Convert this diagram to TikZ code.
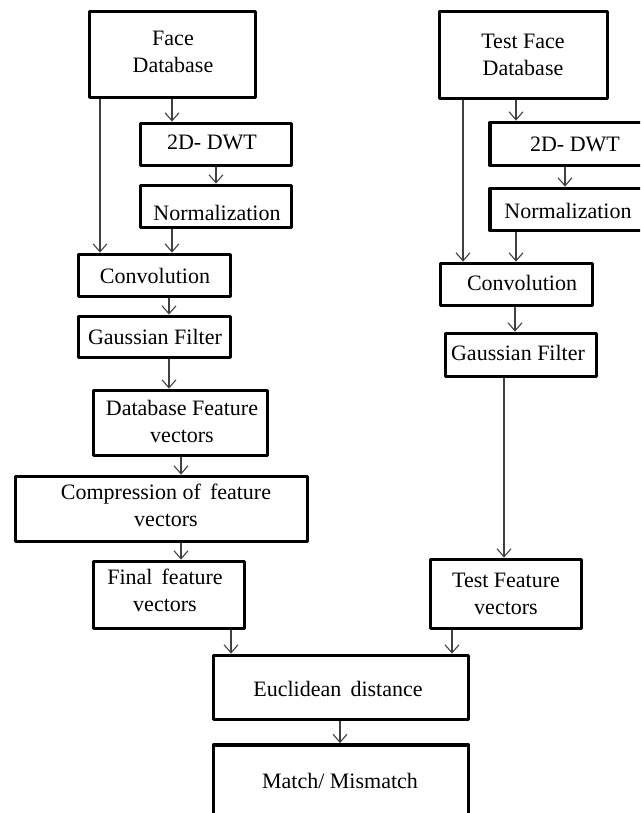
\documentclass[tikz,border=0pt]{standalone}
\usepackage{fontspec}
\setmainfont{Liberation Serif}
\usetikzlibrary{arrows.meta}
\tikzset{
  box/.style={draw=black, line width=3.8pt, rectangle, inner sep=0pt, line join=round},
  txt/.style={align=center, inner sep=0pt, font=\fontsize{22}{27}\selectfont, text=black},
  arr/.style={draw=black!75, line width=1.1pt, -{Straight Barb[length=8pt,width=14pt,line width=1.1pt]}}
}
\newcommand\varr[3]{\draw[arr] (#1.south) ++(#3,0) coordinate (tmp) -- (tmp |- #2.north);}
\begin{document}
\begin{tikzpicture}[x=1pt,y=-1pt]
\useasboundingbox (0,0) rectangle (640,813);
\clip (0,0) rectangle (640,813);
% left column
\node[box, minimum width=166pt, minimum height=86pt] (fdb) at (172.5,54.5) {};
\node[txt] (fdbt) at (173,51.5) {Face\\Database};
\node[box, minimum width=151pt, minimum height=42pt] (dwtL) at (216,144.5) {};
\node[txt] (dwtLt) at (212,142) {2D- DWT};
\node[box, minimum width=151pt, minimum height=42pt] (normL) at (216,206.5) {};
\node[txt] (normLt) at (217,213) {Normalization};
\node[box, minimum width=152pt, minimum height=42pt] (convL) at (154.5,275.5) {};
\node[txt] (convLt) at (155,276) {Convolution};
\node[box, minimum width=152pt, minimum height=41pt] (gaussL) at (154.5,337) {};
\node[txt] (gaussLt) at (155,337) {Gaussian Filter};
\node[box, minimum width=174pt, minimum height=65pt] (dbfv) at (180.5,423) {};
\node[txt] (dbfvt) at (182,421.5) {Database Feature\\vectors};
\node[box, minimum width=292pt, minimum height=65pt] (comp) at (161.5,509) {};
\node[txt] (compt) at (166,505.5) {Compression of\, feature\\vectors};
\node[box, minimum width=151pt, minimum height=67pt] (final) at (169,595) {};
\node[txt] (finalt) at (165,590) {Final\, feature\\vectors};
\node[box, minimum width=255pt, minimum height=64pt] (eucl) at (341,687.5) {};
\node[txt] (euclt) at (338,689) {Euclidean\, distance};
\node[box, minimum width=255pt, minimum height=90pt] (match) at (341,790) {};
\node[txt] (matcht) at (340,781) {Match/ Mismatch};
% right column
\node[box, minimum width=168pt, minimum height=87pt] (tfdb) at (523.5,55) {};
\node[txt] (tfdbt) at (523,54.5) {Test Face\\Database};
\node[box, minimum width=170pt, minimum height=43pt] (dwtR) at (575,144) {};
\node[txt] (dwtRt) at (575,144) {2D- DWT};
\node[box, minimum width=170pt, minimum height=42pt] (normR) at (575,209.5) {};
\node[txt] (normRt) at (568,211) {Normalization};
\node[box, minimum width=152pt, minimum height=42pt] (convR) at (516.5,284.5) {};
\node[txt] (convRt) at (522,283) {Convolution};
\node[box, minimum width=151pt, minimum height=43pt] (gaussR) at (521,355) {};
\node[txt] (gaussRt) at (518,353) {Gaussian Filter};
\node[box, minimum width=151pt, minimum height=69pt] (tfv) at (506,594) {};
\node[txt] (tfvt) at (506,593.5) {Test Feature\\vectors};
% arrows left
\varr{fdb}{convL}{-72.5}
\varr{fdb}{dwtL}{-0.5}
\varr{dwtL}{normL}{0}
\varr{normL}{convL}{-44}
\varr{convL}{gaussL}{14.5}
\varr{gaussL}{dbfv}{14.5}
\varr{dbfv}{comp}{0.5}
\varr{comp}{final}{19.5}
\varr{final}{eucl}{62}
\varr{eucl}{match}{-1}
% arrows right
\varr{tfdb}{convR}{-60.5}
\varr{tfdb}{dwtR}{-7.5}
\varr{dwtR}{normR}{-10}
\varr{normR}{convR}{-59}
\varr{convR}{gaussR}{-1.5}
\varr{gaussR}{tfv}{-17}
\varr{tfv}{eucl}{-54}
\end{tikzpicture}
\end{document}
